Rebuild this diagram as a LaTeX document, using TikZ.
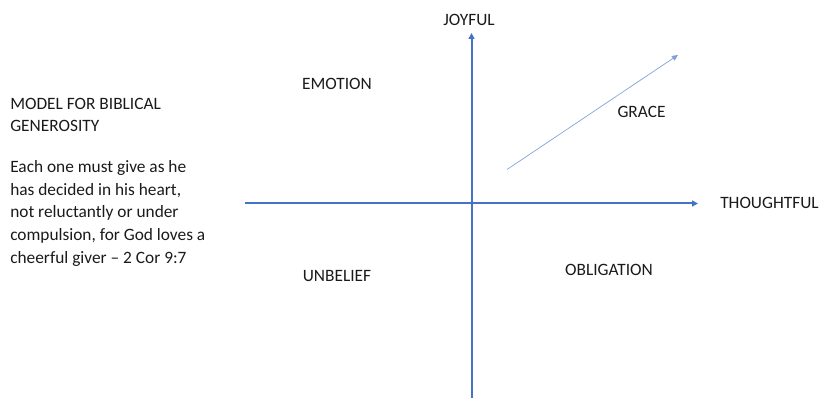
\documentclass[tikz,border=0pt]{standalone}
\usepackage{fontspec}
\setmainfont{Carlito}
\usepackage{tikz}
\usetikzlibrary{arrows.meta}
\definecolor{axisblue}{HTML}{4472C4}
\definecolor{graceblue}{HTML}{7F9FD8}
\definecolor{ink}{HTML}{1A1A1A}

\begin{document}
\begin{tikzpicture}[x=0.75pt,y=-0.75pt,
  font=\fontsize{13}{17}\selectfont,
  lbl/.style={text=ink,inner sep=0pt,anchor=base},
  axis/.style={-{Triangle[length=4.5pt,width=4.5pt]},line width=1.5pt,color=axisblue},
  gracearrow/.style={-{Triangle[length=4.5pt,width=4pt]},line width=0.5pt,color=graceblue}]
  \useasboundingbox (0,0) rectangle (821,398);
  % axis ends (pixel grid of the slide)
  \coordinate (xw) at (245,203.5);
  \coordinate (xe) at (698,203.5);
  \coordinate (ys) at (471.5,398);
  \coordinate (yn) at (471.5,33);
  \coordinate (gs) at (507,169.5);
  \coordinate (ge) at (678,55);
  \draw[axis] (xw) -- (xe);
  \draw[axis] (ys) -- (yn);
  \draw[gracearrow] (gs) -- (ge);
  % axis and quadrant labels
  \node[lbl] (joy)   at (469,26)  {JOYFUL};
  \node[lbl,anchor=base west] (thought) at (720,209) {THOUGHTFUL};
  \node[lbl] (emo)   at (337,90)  {EMOTION};
  \node[lbl] (grace) at (641.5,118) {GRACE};
  \node[lbl] (unb)   at (337,282) {UNBELIEF};
  \node[lbl] (obl)   at (609,276) {OBLIGATION};
  % left text block (base = last line)
  \node[lbl,anchor=base west,align=left] (title) at (10,131.7)
       {MODEL FOR BIBLICAL\\GENEROSITY};
  \node[lbl,anchor=base west,align=left] (verse) at (10,263.3)
       {Each one must give as he\\has decided in his heart,\\not reluctantly or under\\compulsion, for God loves a\\cheerful giver -- 2 Cor 9:7};
\end{tikzpicture}
\end{document}
